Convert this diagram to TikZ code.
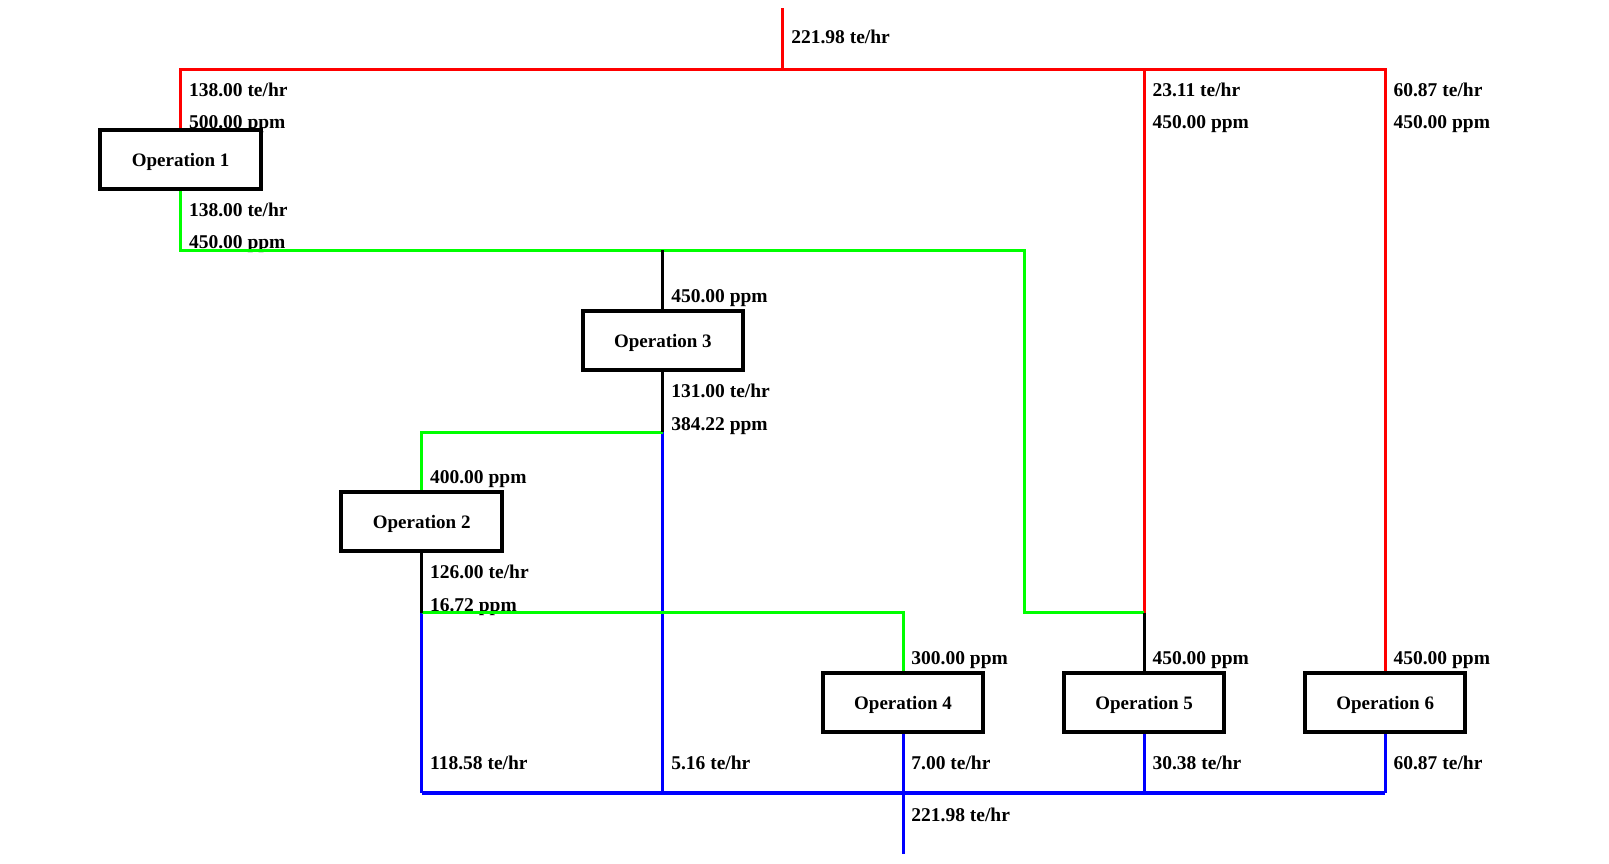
\documentclass[tikz,border=0pt]{standalone}
\usepackage{fontspec}
\setmainfont{Liberation Serif}
\definecolor{cR}{RGB}{255,0,0}
\definecolor{cG}{RGB}{0,255,0}
\definecolor{cB}{RGB}{0,0,255}
\pgfdeclarelayer{lbl}
\pgfdeclarelayer{bg}
\pgfsetlayers{lbl,bg,main}
\tikzset{
  opbox/.style={draw=black, line width=4pt, fill=white, minimum width=160.5pt, minimum height=58.5pt, inner sep=0pt, text depth=0pt, font=\fontsize{19}{20}\selectfont\bfseries},
  flowlbl/.style={anchor=base west, inner sep=0pt, font=\fontsize{19.5}{20}\selectfont\bfseries},
  redln/.style={draw=cR, line width=3pt},
  greenln/.style={draw=cG, line width=3pt},
  blueln/.style={draw=cB, line width=3pt},
  blackln/.style={draw=black, line width=3pt},
}
\begin{document}
\begin{tikzpicture}[x=1pt,y=-1pt]
\useasboundingbox (0,0) rectangle (1609,864);
% boxes
\node[opbox] (op1) at (180.6,159.5) {Operation 1};
\node[opbox] (op3) at (662.9,340.5) {Operation 3};
\node[opbox] (op2) at (421.7,521.5) {Operation 2};
\node[opbox] (op4) at (903.0,702.5) {Operation 4};
\node[opbox] (op5) at (1144.1,702.5) {Operation 5};
\node[opbox] (op6) at (1385.2,702.5) {Operation 6};
% junctions
\coordinate (src) at (782.9,8.2);
\coordinate (rtop) at (782.9,69.8);
\coordinate (r1) at (180.6,69.8);
\coordinate (r5) at (1144.1,69.8);
\coordinate (r6) at (1385.2,69.8);
\coordinate (g1) at (180.6,250.4);
\coordinate (g3) at (662.9,250.4);
\coordinate (g5a) at (1024.0,250.4);
\coordinate (g5b) at (1024.0,612.6);
\coordinate (j5) at (1144.1,612.6);
\coordinate (j3) at (662.9,432.0);
\coordinate (g2) at (421.7,432.0);
\coordinate (j2) at (421.7,612.6);
\coordinate (g4) at (903.0,612.6);
\coordinate (b2) at (421.7,793.2);
\coordinate (b3) at (662.9,793.2);
\coordinate (b4) at (903.0,793.2);
\coordinate (b5) at (1144.1,793.2);
\coordinate (b6) at (1385.2,793.2);
\coordinate (sink) at (903.0,853.7);
\begin{pgfonlayer}{bg}
% blue (waste)
\draw[blueln] (j3) -- (b3);
\draw[blueln] (j2) -- (b2);
\draw[blueln, line width=3.8pt] (b2) -- (b6);
\draw[blueln] (op6.south) -- (b6);
\draw[blueln] (op5.south) -- (b5);
\draw[blueln] (op4.south) -- (sink);
% red (fresh)
\draw[redln] (src) -- (rtop);
\draw[redln] (op1.north) -- (r1) -- (r6) -- (op6.north);
\draw[redln] (r5) -- (j5);
% green (reuse)
\draw[greenln] (op1.south) -- (g1) -- (g5a) -- (g5b) -- (j5);
\draw[greenln] (j3) -- (g2) -- (op2.north);
\draw[greenln] (j2) -- (g4) -- (op4.north);
% black
\draw[blackln] (g3) -- (op3.north);
\draw[blackln] (op3.south) -- (j3);
\draw[blackln] (op2.south) -- (j2);
\draw[blackln] (j5) -- (op5.north);
\end{pgfonlayer}
\begin{pgfonlayer}{lbl}
\node[flowlbl] (l0) at (791.1,43.6) {221.98 te/hr};
\node[flowlbl] (l1a) at (188.8,97.0) {138.00 te/hr};
\node[flowlbl] (l1b) at (188.8,128.7) {500.00 ppm};
\node[flowlbl] (l1c) at (188.8,216.0) {138.00 te/hr};
\node[flowlbl] (l1d) at (188.8,248.8) {450.00 ppm};
\node[flowlbl] (l5a) at (1152.3,97.0) {23.11 te/hr};
\node[flowlbl] (l5b) at (1152.3,128.7) {450.00 ppm};
\node[flowlbl] (l6a) at (1393.4,97.0) {60.87 te/hr};
\node[flowlbl] (l6b) at (1393.4,128.7) {450.00 ppm};
\node[flowlbl] (l3a) at (671.1,302.1) {450.00 ppm};
\node[flowlbl] (l3b) at (671.1,397.6) {131.00 te/hr};
\node[flowlbl] (l3c) at (671.1,430.4) {384.22 ppm};
\node[flowlbl] (l2a) at (429.9,483.7) {400.00 ppm};
\node[flowlbl] (l2b) at (429.9,578.1) {126.00 te/hr};
\node[flowlbl] (l2c) at (429.9,611.0) {16.72 ppm};
\node[flowlbl] (l4a) at (911.2,664.3) {300.00 ppm};
\node[flowlbl] (l5c) at (1152.3,664.3) {450.00 ppm};
\node[flowlbl] (l6c) at (1393.4,664.3) {450.00 ppm};
\node[flowlbl] (w2) at (429.9,769.0) {118.58 te/hr};
\node[flowlbl] (w3) at (671.1,769.0) {5.16 te/hr};
\node[flowlbl] (w4) at (911.2,769.0) {7.00 te/hr};
\node[flowlbl] (w5) at (1152.3,769.0) {30.38 te/hr};
\node[flowlbl] (w6) at (1393.4,769.0) {60.87 te/hr};
\node[flowlbl] (wt) at (911.2,821.3) {221.98 te/hr};
\end{pgfonlayer}
\end{tikzpicture}
\end{document}
